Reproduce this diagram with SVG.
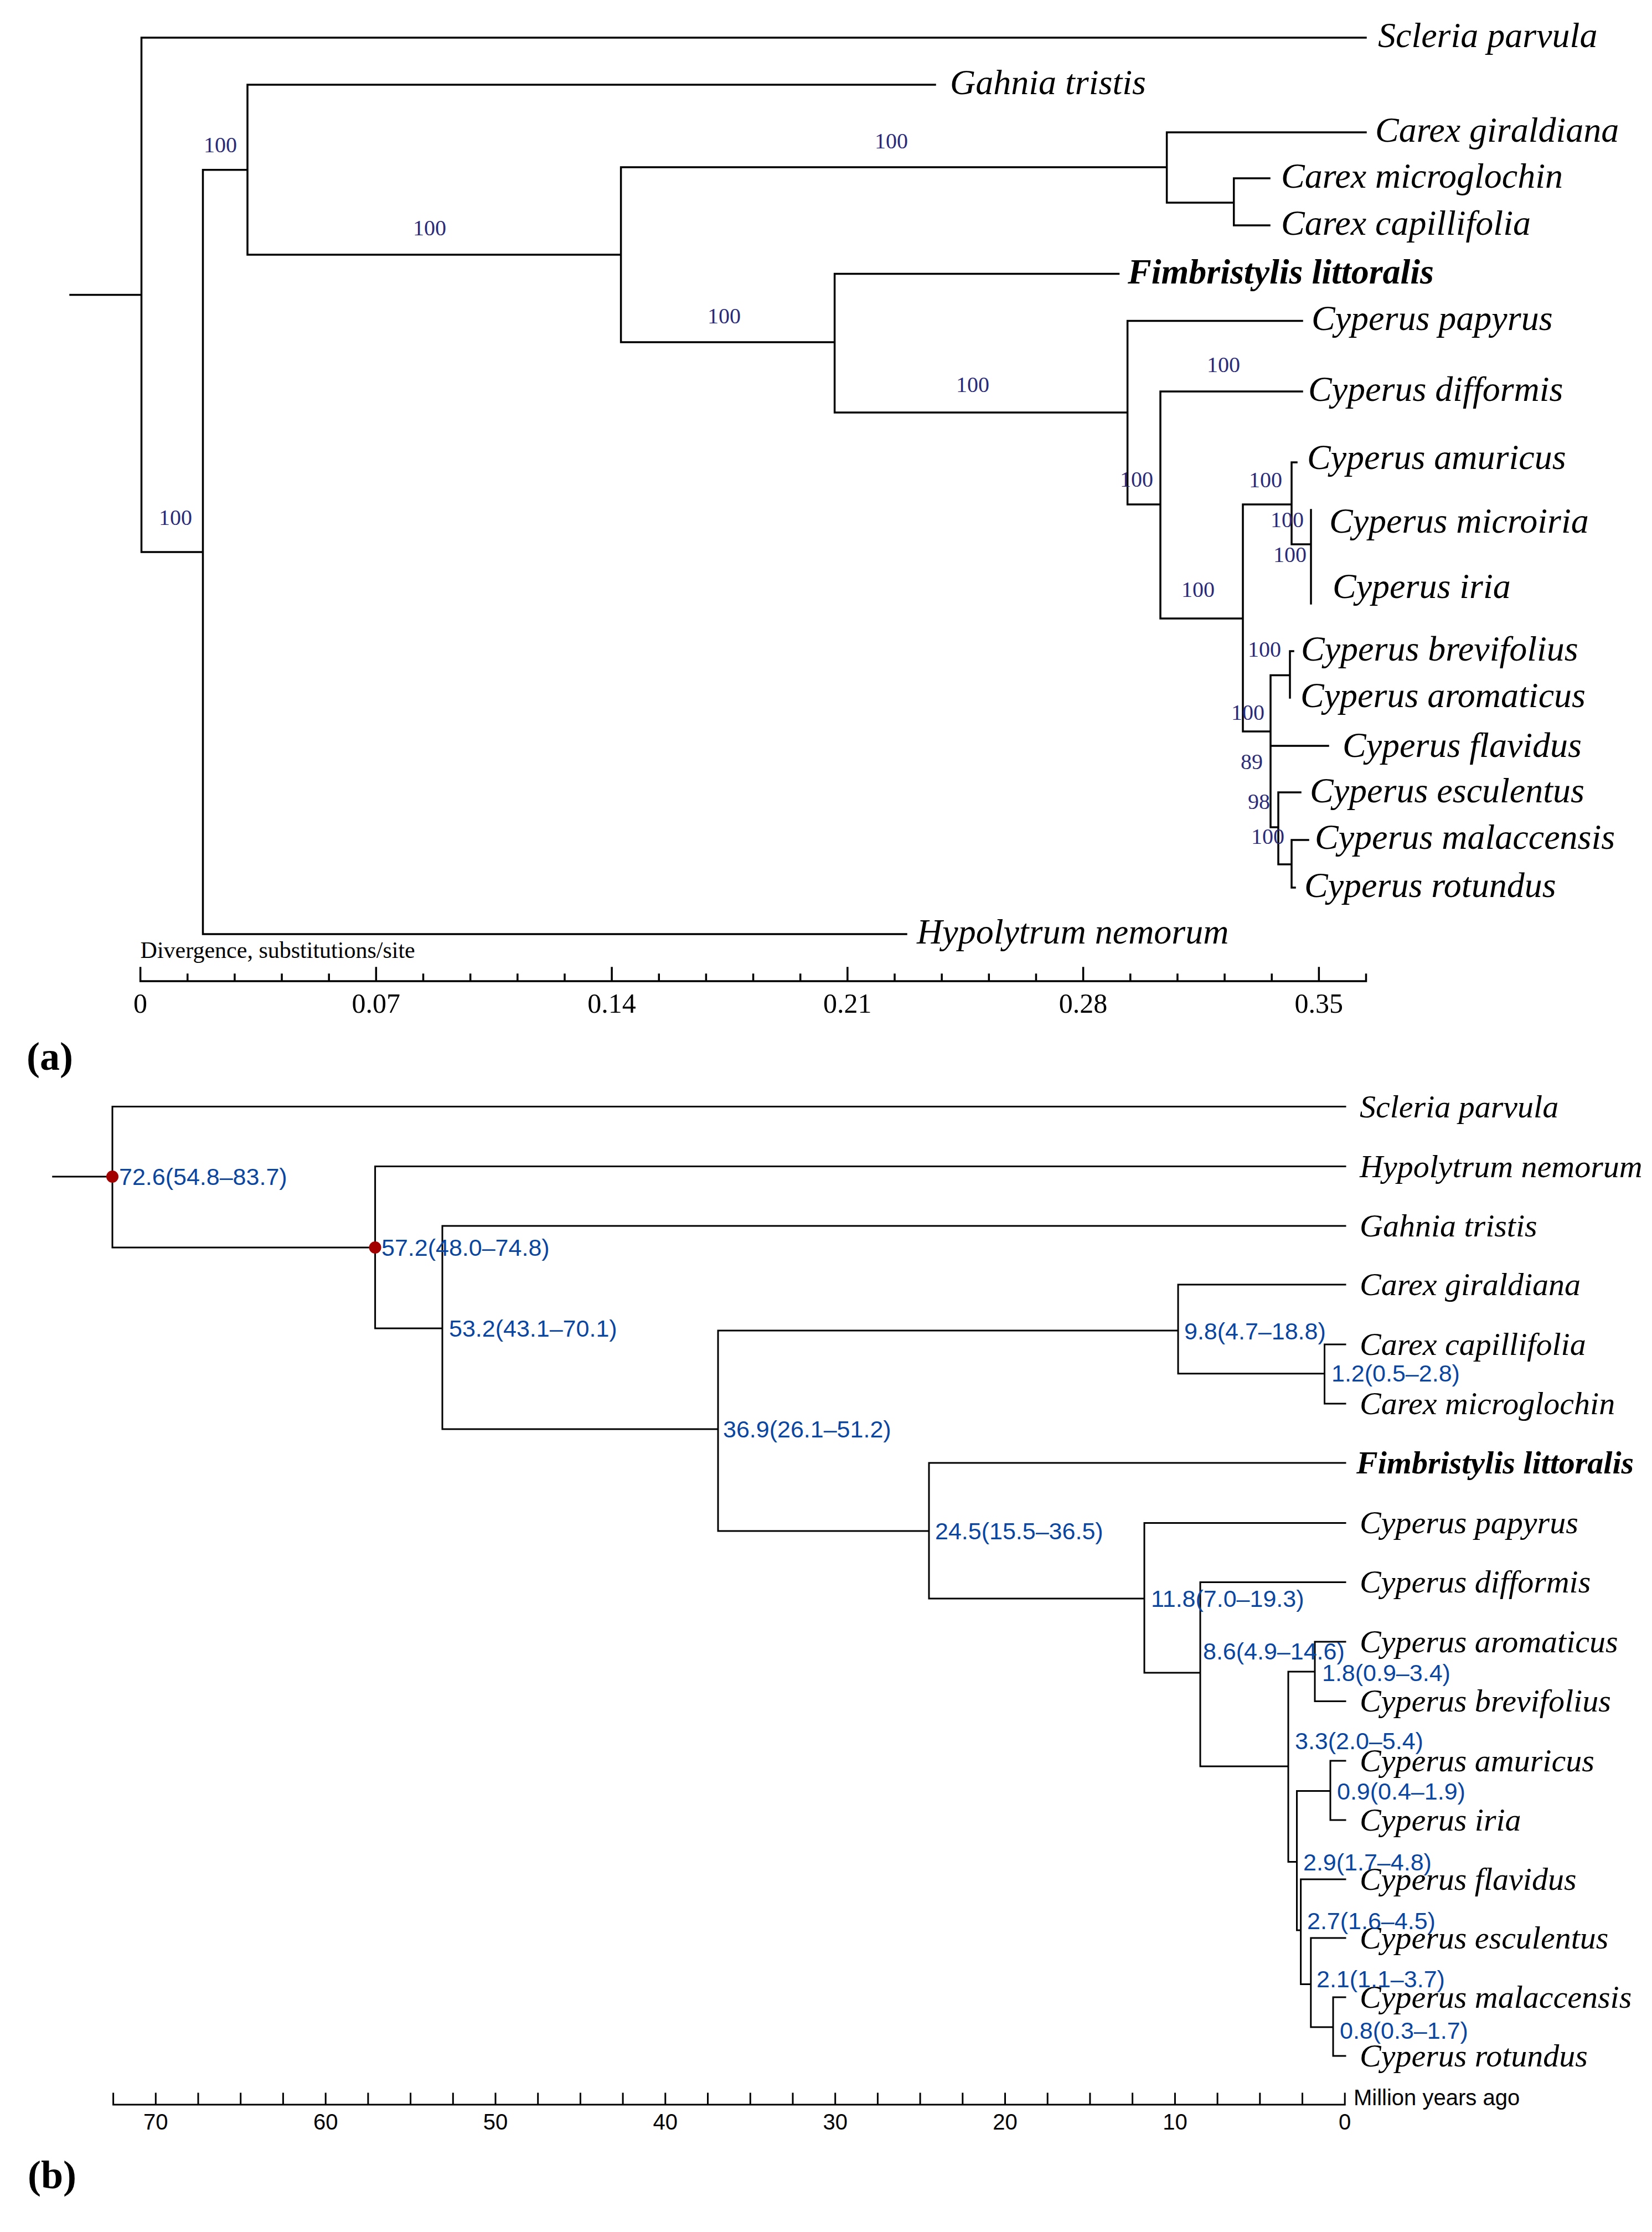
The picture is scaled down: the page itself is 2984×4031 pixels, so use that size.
<svg xmlns="http://www.w3.org/2000/svg" width="2984" height="4031" viewBox="0 0 2984 4031">
<style>
.ln{fill:none;stroke:#000;stroke-width:3.5;stroke-linecap:square}
.lnb{fill:none;stroke:#000;stroke-width:3;stroke-linecap:square}
.ta{font-family:'Liberation Serif','Times New Roman',serif;font-style:italic;font-size:64px;fill:#000}
.tb{font-family:'Liberation Serif','Times New Roman',serif;font-style:italic;font-size:58px;fill:#000}
.bd{font-weight:bold}
.sup{font-family:'Liberation Serif','Times New Roman',serif;font-size:40px;fill:#2b2b78}
.age{font-family:'Liberation Sans',Arial,sans-serif;font-size:43px;fill:#0a46a0}
.axa{font-family:'Liberation Serif','Times New Roman',serif;font-size:50px;text-anchor:middle;fill:#000}
.axb{font-family:'Liberation Sans',Arial,sans-serif;font-size:40px;text-anchor:middle;fill:#000}
.dot{fill:#a30000}
</style>
<rect width="2984" height="4031" fill="#fff"/>

<!-- ===== Panel (a) ===== -->
<g id="a-connectors" class="ln">
<path d="M127 532.6H255.5M255.5 68V997M255.5 68H2467M255.5 997H366.5M366.5 306.7V1687M366.5 1687H1637M366.5 306.7H447M447 153V460M447 153H1689M447 460H1121.6M1121.6 302V618M1121.6 302H2107.6M2107.6 239V366M2107.6 239H2467M2107.6 366H2228.7M2228.7 322V407M2228.7 322H2293M2228.7 407H2293M1121.6 618H1507.6M1507.6 494.6V745M1507.6 494.6H2020.5M1507.6 745H2036.6M2036.6 579.4V911M2036.6 579.4H2352M2036.6 911H2096M2096 707V1117M2096 707H2352M2096 1117H2245M2245 911V1321M2245 911H2333M2333 835V983M2333 835H2342M2333 983H2368M2368 921V1090M2245 1321H2295M2295 1219.5V1494M2295 1219.5H2330M2330 1176V1260M2330 1176H2336M2295 1347H2399M2295 1494H2309M2309 1431V1561M2309 1431H2349M2309 1561H2333M2333 1517V1603M2333 1517H2363M2333 1603H2339"/>
</g>
<g id="a-leaf-scleria"><text class="ta" x="2489" y="85">Scleria parvula</text></g>
<g id="a-leaf-gahnia"><text class="ta" x="1716" y="170">Gahnia tristis</text></g>
<g id="a-leaf-giraldiana"><text class="ta" x="2484" y="256">Carex giraldiana</text></g>
<g id="a-leaf-microglochin"><text class="ta" x="2314" y="339">Carex microglochin</text></g>
<g id="a-leaf-capillifolia"><text class="ta" x="2314" y="424">Carex capillifolia</text></g>
<g id="a-leaf-fimbristylis"><text class="ta bd" x="2037" y="512">Fimbristylis littoralis</text></g>
<g id="a-leaf-papyrus"><text class="ta" x="2369" y="596">Cyperus papyrus</text></g>
<g id="a-leaf-difformis"><text class="ta" x="2363" y="724">Cyperus difformis</text></g>
<g id="a-leaf-amuricus"><text class="ta" x="2361" y="847">Cyperus amuricus</text></g>
<g id="a-leaf-microiria"><text class="ta" x="2401" y="962">Cyperus microiria</text></g>
<g id="a-leaf-iria"><text class="ta" x="2407" y="1080">Cyperus iria</text></g>
<g id="a-leaf-brevifolius"><text class="ta" x="2350" y="1193">Cyperus brevifolius</text></g>
<g id="a-leaf-aromaticus"><text class="ta" x="2349" y="1277">Cyperus aromaticus</text></g>
<g id="a-leaf-flavidus"><text class="ta" x="2425" y="1367">Cyperus flavidus</text></g>
<g id="a-leaf-esculentus"><text class="ta" x="2366" y="1449">Cyperus esculentus</text></g>
<g id="a-leaf-malaccensis"><text class="ta" x="2375" y="1533">Cyperus malaccensis</text></g>
<g id="a-leaf-rotundus"><text class="ta" x="2356" y="1620">Cyperus rotundus</text></g>
<g id="a-leaf-hypolytrum"><text class="ta" x="1656" y="1704">Hypolytrum nemorum</text></g>

<g id="a-support">
<text class="sup" x="368" y="275">100</text>
<text class="sup" x="287" y="948">100</text>
<text class="sup" x="746" y="425">100</text>
<text class="sup" x="1580" y="268">100</text>
<text class="sup" x="1278" y="584">100</text>
<text class="sup" x="1727" y="708">100</text>
<text class="sup" x="2180" y="672">100</text>
<text class="sup" x="2023" y="879">100</text>
<text class="sup" x="2256" y="880">100</text>
<text class="sup" x="2295" y="952">100</text>
<text class="sup" x="2300" y="1015">100</text>
<text class="sup" x="2134" y="1078">100</text>
<text class="sup" x="2254" y="1186">100</text>
<text class="sup" x="2224" y="1300">100</text>
<text class="sup" x="2241" y="1389">89</text>
<text class="sup" x="2254" y="1461">98</text>
<text class="sup" x="2260" y="1524">100</text>
</g>

<g id="a-axis">
<path class="ln" d="M253.6 1772H2467.5M253.6 1772v-24M338.75 1772v-12M423.9 1772v-12M509.05 1772v-12M594.2 1772v-12M679.35 1772v-24M764.5 1772v-12M849.65 1772v-12M934.8 1772v-12M1019.95 1772v-12M1105.1 1772v-24M1190.25 1772v-12M1275.4 1772v-12M1360.55 1772v-12M1445.7 1772v-12M1530.85 1772v-24M1616 1772v-12M1701.15 1772v-12M1786.3 1772v-12M1871.45 1772v-12M1956.6 1772v-24M2041.75 1772v-12M2126.9 1772v-12M2212.05 1772v-12M2297.2 1772v-12M2382.35 1772v-24M2467.5 1772v-12"/>
<text x="253.6" y="1730" style="font-family:'Liberation Serif','Times New Roman',serif;font-size:42px">Divergence, substitutions/site</text>
<text class="axa" x="253.6" y="1829">0</text>
<text class="axa" x="679.35" y="1829">0.07</text>
<text class="axa" x="1105.1" y="1829">0.14</text>
<text class="axa" x="1530.85" y="1829">0.21</text>
<text class="axa" x="1956.6" y="1829">0.28</text>
<text class="axa" x="2382.35" y="1829">0.35</text>
</g>
<g id="label-a"><text x="48" y="1932" style="font-family:'Liberation Serif','Times New Roman',serif;font-size:72px;font-weight:bold">(a)</text></g>

<!-- ===== Panel (b) ===== -->
<g id="b-connectors" class="lnb">
<path d="M95.7 2125H203M203 1998.5V2253M203 1998.5H2430M203 2253H677.6M677.6 2106.5V2399M677.6 2106.5H2430M677.6 2399H799M799 2214V2581M799 2214H2430M799 2581H1297M1297 2403V2765M1297 2403H2128M2128 2320V2480.7M2128 2320H2430M2128 2480.7H2392.5M2392.5 2428V2535M2392.5 2428H2430M2392.5 2535H2430M1297 2765H1678M1678 2642V2887M1678 2642H2430M1678 2887H2067M2067 2750.5V3021M2067 2750.5H2430M2067 3021H2168M2168 2857.4V3190M2168 2857.4H2430M2168 3190H2327M2327 3019V3362.5M2327 3019H2375M2375 2965V3072.6M2375 2965H2430M2375 3072.6H2430M2327 3362.5H2342.5M2342.5 3234.5V3486M2342.5 3234.5H2403M2403 3180V3287M2403 3180H2430M2403 3287H2430M2342.5 3486H2349.6M2349.6 3394V3583.5M2349.6 3394H2430M2349.6 3583.5H2367.8M2367.8 3500V3661M2367.8 3500H2430M2367.8 3661H2408M2408 3607V3713M2408 3607H2430M2408 3713H2430"/>
</g>
<g id="b-calibration">
<circle class="dot" cx="203" cy="2125" r="11"/>
<circle class="dot" cx="677.6" cy="2253" r="11"/>
</g>
<g id="b-leaf-scleria"><text class="tb" x="2456" y="2018">Scleria parvula</text></g>
<g id="b-leaf-hypolytrum"><text class="tb" x="2456" y="2126">Hypolytrum nemorum</text></g>
<g id="b-leaf-gahnia"><text class="tb" x="2456" y="2233">Gahnia tristis</text></g>
<g id="b-leaf-giraldiana"><text class="tb" x="2456" y="2339">Carex giraldiana</text></g>
<g id="b-leaf-capillifolia"><text class="tb" x="2456" y="2447">Carex capillifolia</text></g>
<g id="b-leaf-microglochin"><text class="tb" x="2456" y="2554">Carex microglochin</text></g>
<g id="b-leaf-fimbristylis"><text class="tb bd" x="2450" y="2661">Fimbristylis littoralis</text></g>
<g id="b-leaf-papyrus"><text class="tb" x="2456" y="2769">Cyperus papyrus</text></g>
<g id="b-leaf-difformis"><text class="tb" x="2456" y="2876">Cyperus difformis</text></g>
<g id="b-leaf-aromaticus"><text class="tb" x="2456" y="2984">Cyperus aromaticus</text></g>
<g id="b-leaf-brevifolius"><text class="tb" x="2456" y="3091">Cyperus brevifolius</text></g>
<g id="b-leaf-amuricus"><text class="tb" x="2456" y="3199">Cyperus amuricus</text></g>
<g id="b-leaf-iria"><text class="tb" x="2456" y="3306">Cyperus iria</text></g>
<g id="b-leaf-flavidus"><text class="tb" x="2456" y="3413">Cyperus flavidus</text></g>
<g id="b-leaf-esculentus"><text class="tb" x="2456" y="3519">Cyperus esculentus</text></g>
<g id="b-leaf-malaccensis"><text class="tb" x="2456" y="3626">Cyperus malaccensis</text></g>
<g id="b-leaf-rotundus"><text class="tb" x="2456" y="3732">Cyperus rotundus</text></g>

<g id="b-ages">
<text class="age" x="215" y="2140">72.6(54.8–83.7)</text>
<text class="age" x="689" y="2268">57.2(48.0–74.8)</text>
<text class="age" x="811" y="2414">53.2(43.1–70.1)</text>
<text class="age" x="1306" y="2596">36.9(26.1–51.2)</text>
<text class="age" x="2139" y="2419">9.8(4.7–18.8)</text>
<text class="age" x="2405" y="2495">1.2(0.5–2.8)</text>
<text class="age" x="1689" y="2780">24.5(15.5–36.5)</text>
<text class="age" x="2079" y="2902">11.8(7.0–19.3)</text>
<text class="age" x="2173" y="2997">8.6(4.9–14.6)</text>
<text class="age" x="2388" y="3036">1.8(0.9–3.4)</text>
<text class="age" x="2339" y="3159">3.3(2.0–5.4)</text>
<text class="age" x="2415" y="3250">0.9(0.4–1.9)</text>
<text class="age" x="2354" y="3378">2.9(1.7–4.8)</text>
<text class="age" x="2361" y="3484">2.7(1.6–4.5)</text>
<text class="age" x="2378" y="3589">2.1(1.1–3.7)</text>
<text class="age" x="2420" y="3682">0.8(0.3–1.7)</text>
</g>

<g id="b-axis">
<path class="lnb" d="M204.6 3801H2429.2M204.6 3801v-20M281.3 3801v-20M358 3801v-20M434.7 3801v-20M511.4 3801v-20M588.2 3801v-20M664.9 3801v-20M741.6 3801v-20M818.3 3801v-20M895 3801v-20M971.7 3801v-20M1048.4 3801v-20M1125.1 3801v-20M1201.8 3801v-20M1278.5 3801v-20M1355.3 3801v-20M1432 3801v-20M1508.7 3801v-20M1585.4 3801v-20M1662.1 3801v-20M1738.8 3801v-20M1815.5 3801v-20M1892.2 3801v-20M1968.9 3801v-20M2045.6 3801v-20M2122.4 3801v-20M2199.1 3801v-20M2275.8 3801v-20M2352.5 3801v-20M2429.2 3801v-20"/>
<text class="axb" x="281.3" y="3846">70</text>
<text class="axb" x="588.2" y="3846">60</text>
<text class="axb" x="895" y="3846">50</text>
<text class="axb" x="1201.8" y="3846">40</text>
<text class="axb" x="1508.7" y="3846">30</text>
<text class="axb" x="1815.5" y="3846">20</text>
<text class="axb" x="2122.4" y="3846">10</text>
<text class="axb" x="2429.2" y="3846">0</text>
<text x="2445" y="3802" style="font-family:'Liberation Sans',Arial,sans-serif;font-size:40px">Million years ago</text>
</g>
<g id="label-b"><text x="50" y="3952" style="font-family:'Liberation Serif','Times New Roman',serif;font-size:72px;font-weight:bold">(b)</text></g>
</svg>
